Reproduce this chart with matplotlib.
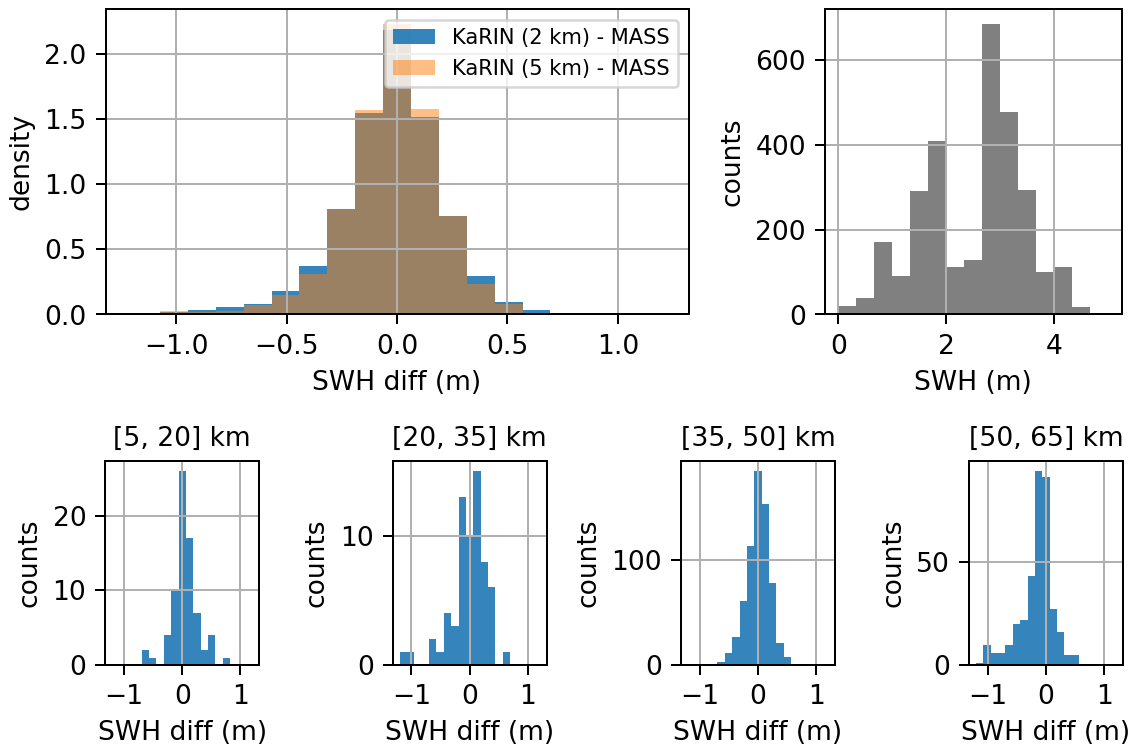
import numpy as np
import matplotlib
matplotlib.use("Agg")
import matplotlib.pyplot as plt

# ---------------- data ----------------
diff_edges = np.linspace(-1.2, 1.2, 20)          # 19 bins shared by SWH-diff histograms
density_2km = [0.0, 0.018, 0.036, 0.058, 0.081, 0.178, 0.374, 0.806, 1.544, 2.18,
               1.518, 0.755, 0.292, 0.095, 0.031, 0.0, 0.0, 0.0, 0.0]
density_5km = [0.0, 0.026, 0.020, 0.028, 0.075, 0.148, 0.310, 0.806, 1.567, 2.23,
               1.577, 0.755, 0.236, 0.079, 0.0, 0.0, 0.0, 0.0, 0.0]
legend_labels = ["KaRIN (2 km) - MASS", "KaRIN (5 km) - MASS"]

swh_edges = np.linspace(0, 5, 16)
swh_counts = [20, 39, 171, 90, 292, 409, 111, 128, 686, 479, 293, 101, 113, 17, 0]

range_titles = ["[5, 20] km", "[20, 35] km", "[35, 50] km", "[50, 65] km"]
range_counts = [
    [0, 0, 0, 0, 2, 1, 0, 4, 10, 26, 17, 7, 2, 4, 0, 1, 0, 0, 0],
    [1, 1, 0, 0, 2, 1, 4, 3, 13, 10, 15, 8, 6, 0, 1, 0, 0, 0, 0],
    [0, 0, 1, 1, 3, 12, 27, 61, 113, 185, 153, 78, 21, 8, 0, 0, 0, 0, 0],
    [1, 10, 6, 6, 10, 20, 22, 43, 94, 91, 27, 16, 5, 5, 0, 0, 0, 0, 0],
]
range_yticks = [[0, 10, 20], [0, 10], [0, 100], [0, 50]]

# ---------------- figure ----------------
W, H = 1131, 747
DPI = 180
FS = 10.6
plt.rcParams.update({
    "font.size": FS,
    "axes.titlesize": FS,
    "axes.labelsize": FS,
    "xtick.labelsize": FS,
    "ytick.labelsize": FS,
    "legend.fontsize": 8.4,
    "xtick.major.size": 4.1,
    "ytick.major.size": 4.1,
})
fig = plt.figure(figsize=(W / DPI, H / DPI), dpi=DPI)

def ax_px(x0, y0, x1, y1):
    return fig.add_axes([x0 / W, 1 - y1 / H, (x1 - x0) / W, (y1 - y0) / H])

centers = 0.5 * (diff_edges[:-1] + diff_edges[1:])
swh_centers = 0.5 * (swh_edges[:-1] + swh_edges[1:])

# top-left density histogram
ax1 = ax_px(105.5, 9.3, 688.6, 314.5)
ax1.hist(centers, bins=diff_edges, weights=density_2km, color="C0", alpha=0.9,
         label=legend_labels[0])
ax1.hist(centers, bins=diff_edges, weights=density_5km, color="C1", alpha=0.5,
         label=legend_labels[1])
ax1.set_xticks([-1.0, -0.5, 0.0, 0.5, 1.0])
ax1.set_yticks([0.0, 0.5, 1.0, 1.5, 2.0])
ax1.set_xlabel("SWH diff (m)")
ax1.set_ylabel("density")
ax1.legend(loc="upper right")
ax1.grid(True)

# top-right SWH histogram
ax2 = ax_px(825, 9.3, 1121.7, 314.5)
ax2.hist(swh_centers, bins=swh_edges, weights=swh_counts, color="gray")
ax2.set_xticks([0, 2, 4])
ax2.set_yticks([0, 200, 400, 600])
ax2.set_xlabel("SWH (m)")
ax2.set_ylabel("counts")
ax2.grid(True)

# bottom row: per-distance histograms
lefts = [105.3, 392.7, 681.0, 969.0]
for left, title, counts, yt in zip(lefts, range_titles, range_counts, range_yticks):
    ax = ax_px(left, 461.0, left + 153.8, 665.3)
    ax.hist(centers, bins=diff_edges, weights=counts, color="C0", alpha=0.9)
    ax.set_xticks([-1, 0, 1])
    ax.set_yticks(yt)
    ax.set_title(title)
    ax.set_xlabel("SWH diff (m)")
    ax.set_ylabel("counts")
    ax.grid(True)

fig.savefig("out.png", dpi=DPI)
